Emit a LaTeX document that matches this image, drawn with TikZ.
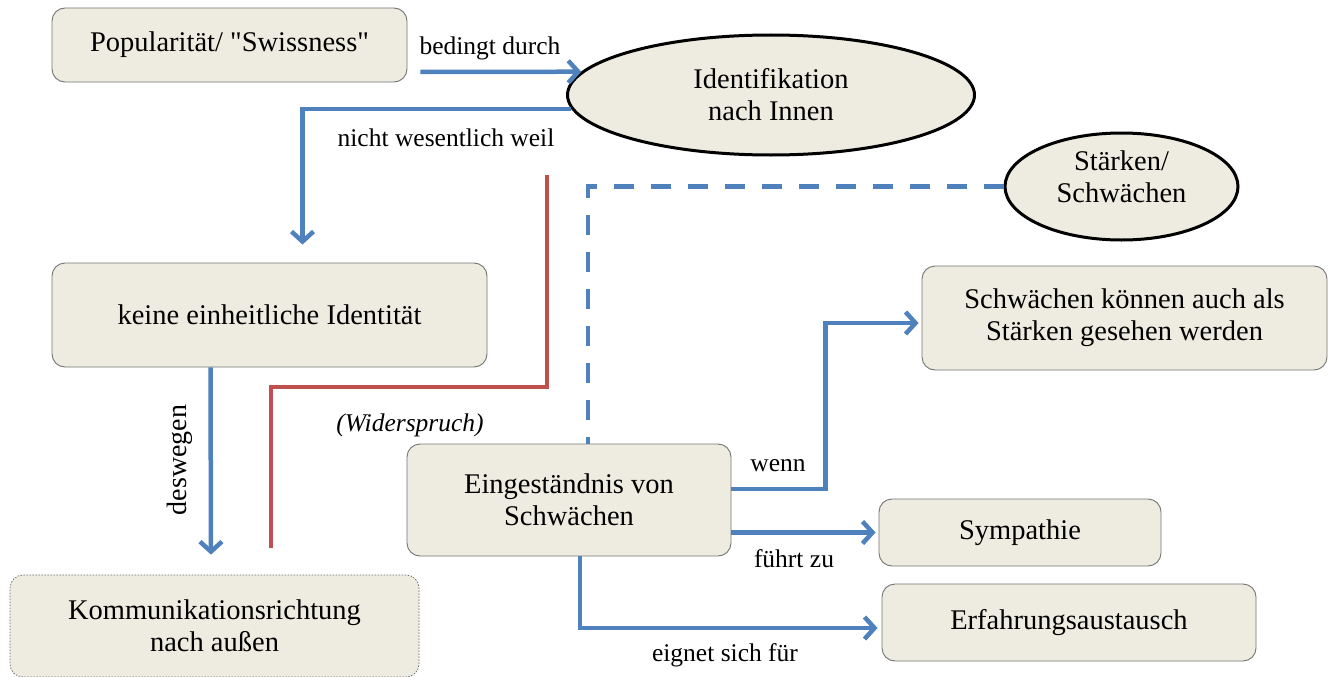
\documentclass[tikz,border=0pt]{standalone}
\usepackage{fontspec}
\setmainfont{Liberation Serif}
\newfontfamily\qfont{Liberation Serif}
\usetikzlibrary{arrows.meta,shapes.geometric,calc}
\definecolor{bfill}{HTML}{EEECE1}
\definecolor{ablue}{HTML}{4F81BD}
\definecolor{ared}{HTML}{C0504D}
\newcommand{\mainsz}{\fontsize{28.5}{32}\selectfont}
\newcommand{\labsz}{\fontsize{25.5}{30}\selectfont}
\begin{document}
\begin{tikzpicture}[x=1pt,y=-1pt,
  box/.style={draw=black!55, line width=0.9pt, fill=bfill, rounded corners=13pt, align=center, inner sep=0pt, font=\mainsz},
  dbox/.style={box, draw=black!60, line width=0.7pt, dash pattern=on 1.5pt off 1.5pt},
  ell/.style={ellipse, draw=black, line width=3pt, fill=bfill, align=center, inner sep=0pt, font=\mainsz},
  arr/.style={draw=ablue, line width=4.5pt, -{Straight Barb[length=10pt,width=22pt]}},
  conn/.style={draw=ablue, line width=4.5pt},
  dconn/.style={draw=ablue, line width=4.5pt, dash pattern=on 20pt off 17pt},
  rconn/.style={draw=ared, line width=4.5pt},
  lab/.style={font=\labsz, inner sep=0pt}
]
\useasboundingbox (0,0) rectangle (1330,677);

% nodes
\node[box, minimum width=355pt, minimum height=74pt] (pop) at (229.5,45) {Popularität/ {\qfont"}Swissness{\qfont"}};
\node[ell, minimum width=407pt, minimum height=120pt] (ident) at (771,95) {Identifikation\\nach Innen};
\node[ell, minimum width=233pt, minimum height=107pt] (stk) at (1121.5,186.5) {};
\node[align=center, font=\mainsz, inner sep=0pt] (stkt) at (1121.5,177) {Stärken/\\Schwächen};
\node[box, minimum width=435pt, minimum height=104pt] (keine) at (269.5,315) {keine einheitliche Identität};
\node[dbox, minimum width=409pt, minimum height=102pt] (komm) at (214.5,626) {Kommunikationsrichtung\\nach außen};
\node[box, minimum width=324pt, minimum height=112pt] (eing) at (569,500) {Eingeständnis von\\Schwächen};
\node[box, minimum width=405pt, minimum height=104pt] (schw) at (1124.5,318) {Schwächen können auch als\\Stärken gesehen werden};
\node[box, minimum width=282pt, minimum height=67pt] (symp) at (1020,532.5) {Sympathie};
\node[box, minimum width=374pt, minimum height=77pt] (erf) at (1069,622.5) {Erfahrungsaustausch};

% connectors
\draw[arr] ($(pop.east)+(13,27)$) -- (ident.173);
\coordinate (k1) at ($(keine.north)+(33,-18)$);
\draw[arr] (ident.184) -| (k1);
\draw[arr] ($(keine.south)+(-59,0)$) -- ($(komm.north)+(-3.5,-20)$);
\coordinate (dx) at (588,0);
\draw[dconn] (stk.west) -| (eing.north -| dx);
\coordinate (r1) at (547,175);
\coordinate (r2) at (547,387);
\coordinate (r3) at (271,387);
\coordinate (r4) at (271,548);
\draw[rconn] (r1) -- (r2) -- (r3) -- (r4);
\coordinate (w1) at ($(schw.west)+(-96,5)$);
\draw[arr] ($(eing.east)+(0,-11)$) -| (w1) -- ($(schw.west)+(-3,5)$);
\draw[arr] (eing.east |- symp.west) -- ($(symp.west)+(-3,0)$);
\coordinate (e1) at ($(eing.south)+(11,0)$);
\draw[arr] (e1) |- ($(erf.west)+(-4,5.5)$);

% labels
\node[lab] (l1) at (490,48) {bedingt durch};
\node[lab] (l2) at (446,138) {nicht wesentlich weil};
\node[lab, rotate=90, font=\fontsize{28}{32}\selectfont] (l3) at (180,460) {deswegen};
\node[lab] (l4) at (410,425) {\itshape (Widerspruch)};
\node[lab] (l5) at (778,466) {wenn};
\node[lab] (l6) at (794,559) {führt zu};
\node[lab] (l7) at (725,655) {eignet sich für};
\end{tikzpicture}
\end{document}
